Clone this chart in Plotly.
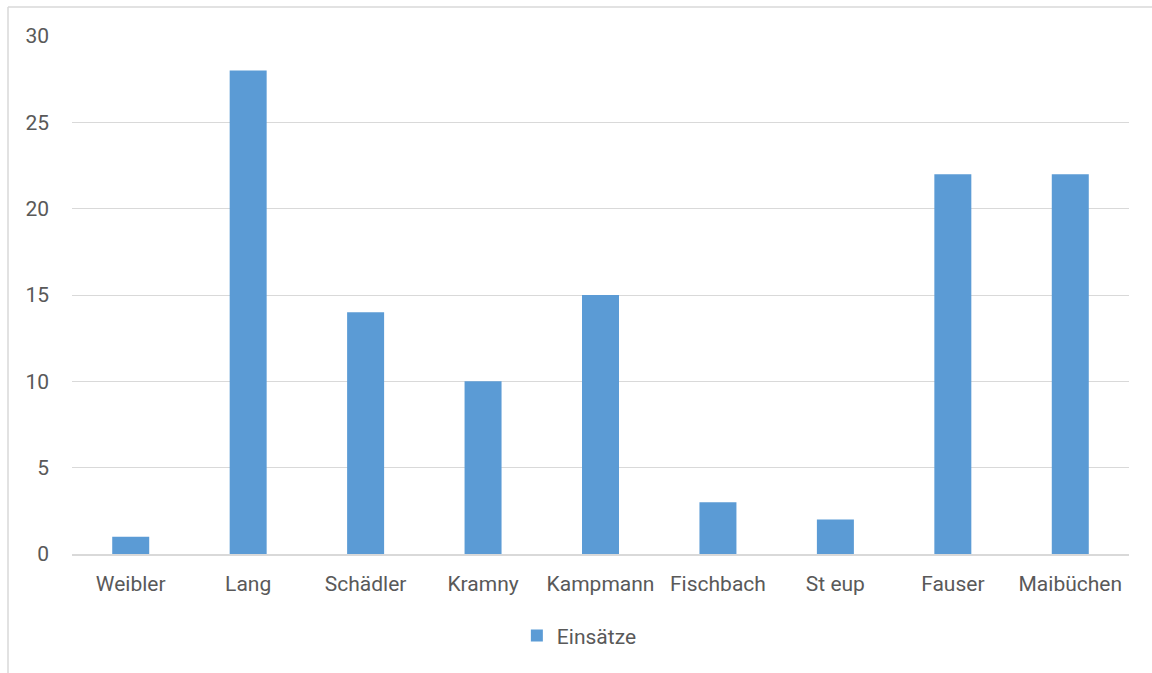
import plotly.graph_objects as go

categories = ["Weibler", "Lang", "Schädler", "Kramny", "Kampmann", "Fischbach", "St eup", "Fauser", "Maibüchen"]
values = [1, 28, 14, 10, 15, 3, 2, 22, 22]
series_name = "Einsätze"
yticks = [0, 5, 10, 15, 20, 25, 30]

fig = go.Figure()
fig.add_trace(go.Bar(x=categories, y=values, name=series_name,
                     marker=dict(color="#5B9BD5", line=dict(width=0))))

W, H = 1152, 673
l, t, r, b = 72, 36, 23, 119
pw, ph = W - l - r, H - t - b

FONT = "Roboto, Open Sans, sans-serif"
FS = 21

bx = (8 - l) / pw
by = 1 + (t - 7) / ph
border = dict(color="#D9D9D9", width=1.5)

fig.update_layout(
    width=W, height=H,
    margin=dict(l=l, r=r, t=t, b=b, autoexpand=False),
    paper_bgcolor="white", plot_bgcolor="white",
    font=dict(family=FONT, size=FS, color="#595959"),
    bargap=0.685,
    showlegend=True,
    legend=dict(orientation="h", x=0.48, xanchor="center", y=-0.158, yanchor="middle",
                font=dict(family=FONT, size=FS, color="#595959"), itemwidth=30),
    xaxis=dict(showgrid=False, showline=True, linecolor="#D9D9D9", linewidth=2,
               ticks="", ticklabelstandoff=10, automargin=False,
               tickfont=dict(family=FONT, size=FS, color="#595959"), fixedrange=True),
    yaxis=dict(range=[0, 30], tickvals=yticks, showgrid=True, gridcolor="#D9D9D9",
               gridwidth=1, zeroline=False, showline=False, ticks="", automargin=False,
               ticklabelstandoff=22, tickfont=dict(family=FONT, size=FS, color="#595959")),
    shapes=[
        dict(type="line", xref="paper", yref="paper", x0=bx, x1=1.1, y0=by, y1=by,
             line=border, layer="below"),
        dict(type="line", xref="paper", yref="paper", x0=bx, x1=bx, y0=by, y1=-0.4,
             line=border, layer="below"),
    ],
)

fig.write_html("out.html", config={"displayModeBar": False},
               post_script="document.body.style.margin='0';document.body.style.overflow='hidden';")
